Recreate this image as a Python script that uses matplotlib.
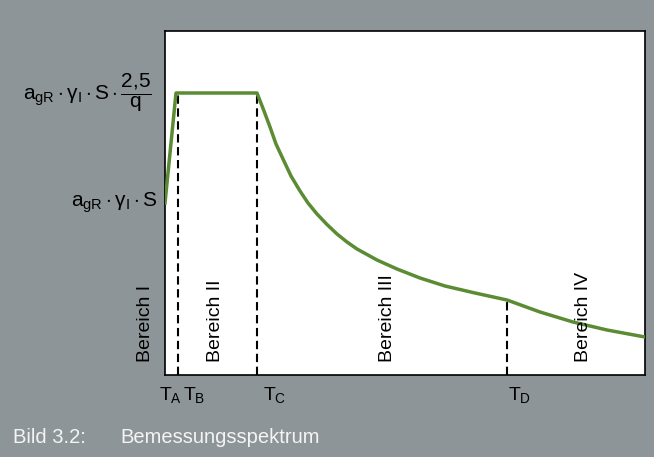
import numpy as np
import matplotlib.pyplot as plt

plt.rcParams['font.family'] = ['Liberation Sans', 'DejaVu Sans']
plt.rcParams['mathtext.fontset'] = 'custom'
plt.rcParams['mathtext.rm'] = 'Liberation Sans'
plt.rcParams['mathtext.it'] = 'Liberation Sans'
plt.rcParams['mathtext.bf'] = 'Liberation Sans:bold'

# spectrum shape (period, ordinate)
periode = [0.0, 0.11, 0.92, 0.99, 1.05, 1.11, 1.18, 1.26, 1.35, 1.43, 1.52, 1.62,
           1.72, 1.82, 1.92, 2.12, 2.32, 2.55, 2.80, 3.10, 3.42, 3.75, 4.08, 4.42,
           4.80]
spektrum = [1.72, 2.82, 2.82, 2.64, 2.48, 2.31, 2.16, 1.99, 1.84, 1.72, 1.61, 1.505,
            1.41, 1.33, 1.26, 1.15, 1.06, 0.97, 0.89, 0.82, 0.75, 0.63, 0.53, 0.45,
            0.38]

# corner periods and their labels
t_werte = [0.13, 0.92, 3.42]
t_kurve = [2.82, 2.82, 0.75]
t_namen = [r'$T_A$', r'$T_B$', r'$T_C$', r'$T_D$']
t_label_x = [-0.06, 0.18, 0.98, 3.43]

bereiche = ['Bereich I', 'Bereich II', 'Bereich III', 'Bereich IV']
bereich_x = [-0.19, 0.50, 2.23, 4.18]

grau = '#8e9598'
gruen = '#5b8b33'

fig = plt.figure(figsize=(6.54, 4.57), dpi=100, facecolor=grau)
ax = fig.add_axes([165 / 654, 82 / 457, 480 / 654, 344 / 457])
ax.set_facecolor('white')

ax.plot(periode, spektrum, color=gruen, lw=2.5, solid_joinstyle='round', zorder=3)
for t, h in zip(t_werte, t_kurve):
    ax.plot([t, t], [0, h], color='black', lw=1.5, dashes=(4, 2.2), zorder=2)

ax.set_xlim(0, 4.80)
ax.set_ylim(0, 3.44)
ax.set_xticks([])
ax.set_yticks([])
for s in ax.spines.values():
    s.set_linewidth(1.2)
    s.set_color('black')

# y labels
ax.text(-0.13, 2.75, r'$a_{gR}\cdot\gamma_I\cdot S\cdot\dfrac{2{,}5}{q}$', ha='right',
        va='baseline', fontsize=15, clip_on=False)
ax.text(-0.08, 1.68, r'$a_{gR}\cdot\gamma_I\cdot S$', ha='right', va='baseline',
        fontsize=15, clip_on=False)

# period labels
for name, x in zip(t_namen, t_label_x):
    ax.text(x, -0.25, name, ha='left', va='baseline', fontsize=14, clip_on=False)

for name, x in zip(bereiche, bereich_x):
    ax.text(x, 0.13, name, rotation=90, ha='center', va='bottom', fontsize=14,
            clip_on=False)

fig.text(13 / 654, 14 / 457, 'Bild 3.2:', color='#f4f4f4',
         fontsize=14.5, ha='left', va='baseline')
fig.text(120 / 654, 14 / 457, 'Bemessungsspektrum', color='#f4f4f4',
         fontsize=14.5, ha='left', va='baseline')

fig.savefig('out.png', dpi=100, facecolor=grau)
